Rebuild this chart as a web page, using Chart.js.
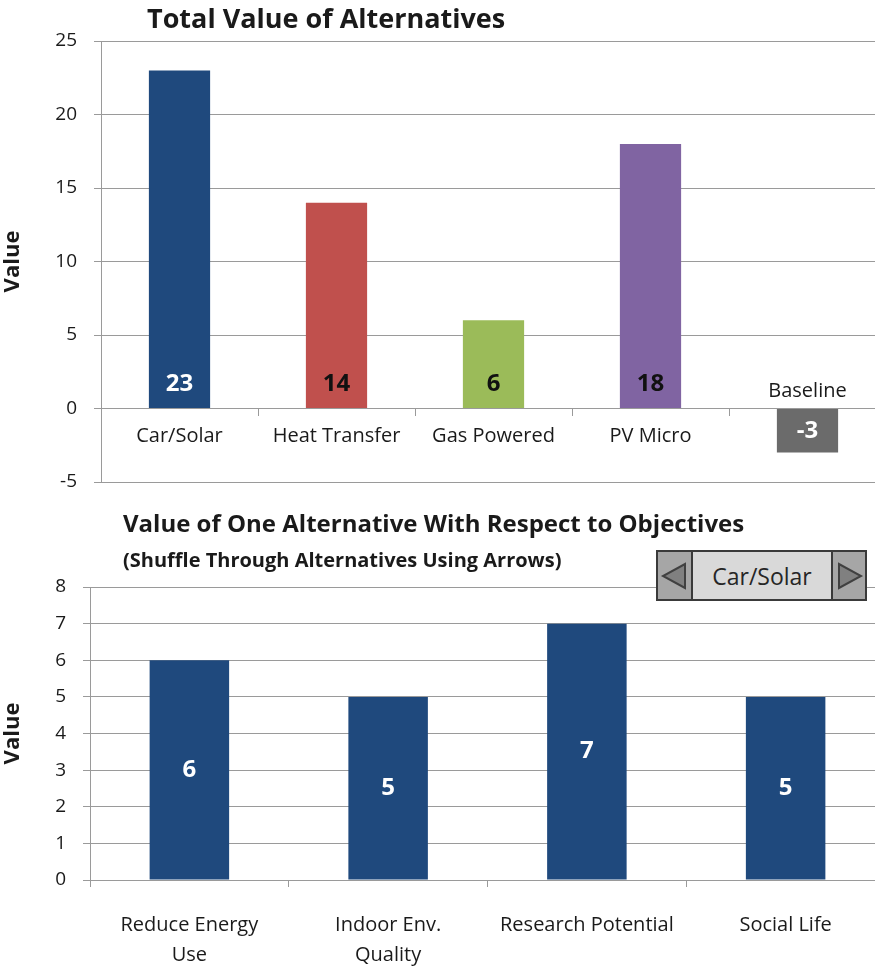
<!DOCTYPE html>
<html>
<head>
<meta charset="utf-8">
<script src="https://cdn.jsdelivr.net/npm/chart.js@4"></script>
<style>
  html, body { margin: 0; padding: 0; background: #fff; overflow: hidden; }
  body { width: 875px; height: 969px; position: relative; }
  #wrapTop { position: absolute; left: 0; top: 0; width: 886px; height: 500px; }
  #wrapBot { position: absolute; left: 0; top: 500px; width: 885px; height: 469px; }
  #picker { position: absolute; left: 656px; top: 550px; }
</style>
</head>
<body>
<div id="wrapTop"><canvas id="totals"></canvas></div>
<div id="wrapBot"><canvas id="objectives"></canvas></div>
<svg id="picker" width="212" height="52" xmlns="http://www.w3.org/2000/svg">
  <rect x="1" y="1" width="35" height="49" fill="#a6a6a6" stroke="#3a3a3a" stroke-width="2"/>
  <rect x="36" y="1" width="140" height="49" fill="#d9d9d9" stroke="#3a3a3a" stroke-width="2"/>
  <rect x="176" y="1" width="34" height="49" fill="#a6a6a6" stroke="#3a3a3a" stroke-width="2"/>
  <polygon points="29,14 29,38 7,26" fill="#808080" stroke="#404040" stroke-width="2"/>
  <polygon points="183,14 183,38 205,26" fill="#808080" stroke="#404040" stroke-width="2"/>
  <text x="106" y="35" text-anchor="middle" font-family="'Open Sans', sans-serif" font-size="23" fill="#262626">Car/Solar</text>
</svg>
<script>
// top chart: total value per alternative
const alternatives = ['Car/Solar', 'Heat Transfer', 'Gas Powered', 'PV Micro', 'Baseline'];
const totalValues = [23, 14, 6, 18, -3];
const totalColors = ['#1f497d', '#c0504d', '#9bbb59', '#8064a2', '#6b6b6b'];
const totalLabelColors = ['#ffffff', '#111111', '#111111', '#111111', '#ffffff'];
const totalTicks = [-5, 0, 5, 10, 15, 20, 25];

// bottom chart: one alternative vs objectives
const objectives = [['Reduce Energy', 'Use'], ['Indoor Env.', 'Quality'], 'Research Potential', 'Social Life'];
const objectiveValues = [6, 5, 7, 5];
const objectiveTicks = [0, 1, 2, 3, 4, 5, 6, 7, 8];

const FONT = '"Open Sans", Lato, sans-serif';
const GRID = '#9a9a9a';
const TEXT = '#1a1a1a';

Chart.defaults.font.family = FONT;
Chart.defaults.color = TEXT;

// draws titles and the numbers inside bars
const barText = {
  id: 'barText',
  afterDatasetsDraw(chart, args, opts) {
    const ctx = chart.ctx;
    ctx.save();
    (opts.titles || []).forEach(t => {
      // size the font so the title spans the same width as the original
      ctx.font = 'bold 20px ' + FONT;
      const size = Math.min(t.max, 20 * t.width / ctx.measureText(t.text).width);
      ctx.font = 'bold ' + size.toFixed(1) + 'px ' + FONT;
      ctx.fillStyle = TEXT;
      ctx.textAlign = 'left';
      ctx.textBaseline = 'middle';
      ctx.fillText(t.text, t.x, t.y);
    });
    const meta = chart.getDatasetMeta(0);
    const ds = chart.data.datasets[0];
    const zero = chart.scales.y.getPixelForValue(0);
    meta.data.forEach((bar, i) => {
      const v = ds.data[i];
      ctx.font = 'bold 24px ' + FONT;
      ctx.textAlign = 'center';
      ctx.textBaseline = 'middle';
      ctx.fillStyle = opts.colors ? opts.colors[i] : '#fff';
      let y;
      if (opts.mode === 'base' && v > 0) y = zero - 24;
      else y = (bar.y + bar.base) / 2;
      ctx.fillText(String(v), bar.x, y);
      if (opts.extra && opts.extra[i]) {
        ctx.font = '20px ' + FONT;
        ctx.fillStyle = TEXT;
        ctx.fillText(opts.extra[i], bar.x, zero - 17);
      }
    });
    ctx.restore();
  }
};

// fixed axis width, and keep tick padding from pushing the plot area around
function fixY(width) {
  return s => { s.width = width; s.paddingTop = 0; s.paddingBottom = 0; };
}

new Chart(document.getElementById('totals'), {
  type: 'bar',
  data: {
    labels: alternatives,
    datasets: [{
      data: totalValues,
      backgroundColor: totalColors,
      borderWidth: 0,
      categoryPercentage: 1,
      barPercentage: 0.39
    }]
  },
  options: {
    responsive: true,
    maintainAspectRatio: false,
    animation: false,
    layout: { padding: { top: 41, bottom: 18, left: 0, right: 0 } },
    plugins: {
      legend: { display: false },
      tooltip: { enabled: false },
      barText: {
        mode: 'base',
        colors: totalLabelColors,
        extra: [null, null, null, null, 'Baseline'],
        titles: [{ text: 'Total Value of Alternatives', x: 147, y: 20, width: 365, max: 27 }]
      }
    },
    scales: {
      x: {
        position: { y: 0 },
        afterFit(s) { s.height = 0; },
        grid: { offset: true, drawOnChartArea: false, drawTicks: true, tickLength: 7, color: GRID },
        border: { color: GRID },
        ticks: {
          font: { size: 20 },
          color: TEXT,
          padding: 9,
          maxRotation: 0,
          autoSkip: false,
          callback(v, i) { return i === alternatives.length - 1 ? '' : alternatives[i]; }
        }
      },
      y: {
        min: totalTicks[0],
        max: totalTicks[totalTicks.length - 1],
        afterFit: fixY(101),
        afterBuildTicks(s) { s.ticks = totalTicks.map(v => ({ value: v })); },
        grid: { color: GRID, tickLength: 7 },
        border: { color: GRID },
        ticks: { font: { size: 19 }, color: TEXT, padding: 17 },
        title: { display: true, text: 'Value', font: { size: 22, weight: 'bold' }, color: TEXT, padding: { top: 0, bottom: 6 } }
      }
    }
  },
  plugins: [barText]
});

new Chart(document.getElementById('objectives'), {
  type: 'bar',
  data: {
    labels: objectives,
    datasets: [{
      data: objectiveValues,
      backgroundColor: '#1f497d',
      borderWidth: 0,
      categoryPercentage: 1,
      barPercentage: 0.4
    }]
  },
  options: {
    responsive: true,
    maintainAspectRatio: false,
    animation: false,
    layout: { padding: { top: 87, bottom: 0, left: 0, right: 0 } },
    plugins: {
      legend: { display: false },
      tooltip: { enabled: false },
      barText: {
        mode: 'center',
        titles: [
          { text: 'Value of One Alternative With Respect to Objectives', x: 123, y: 25, width: 642, max: 24 },
          { text: '(Shuffle Through Alternatives Using Arrows)', x: 123, y: 61, width: 477, max: 20 }
        ]
      }
    },
    scales: {
      x: {
        afterFit(s) { s.height = 89; },
        grid: { offset: true, drawOnChartArea: false, drawTicks: true, tickLength: 7, color: GRID },
        border: { color: GRID },
        ticks: { font: { size: 20, lineHeight: 1.5 }, color: TEXT, padding: 23, maxRotation: 0, autoSkip: false }
      },
      y: {
        min: objectiveTicks[0],
        max: objectiveTicks[objectiveTicks.length - 1],
        afterFit: fixY(90),
        afterBuildTicks(s) { s.ticks = objectiveTicks.map(v => ({ value: v })); },
        grid: { color: GRID, tickLength: 7 },
        border: { color: GRID },
        ticks: { font: { size: 19 }, color: TEXT, padding: 17 },
        title: { display: true, text: 'Value', font: { size: 22, weight: 'bold' }, color: TEXT, padding: { top: 0, bottom: 6 } }
      }
    }
  },
  plugins: [barText]
});
</script>
</body>
</html>
